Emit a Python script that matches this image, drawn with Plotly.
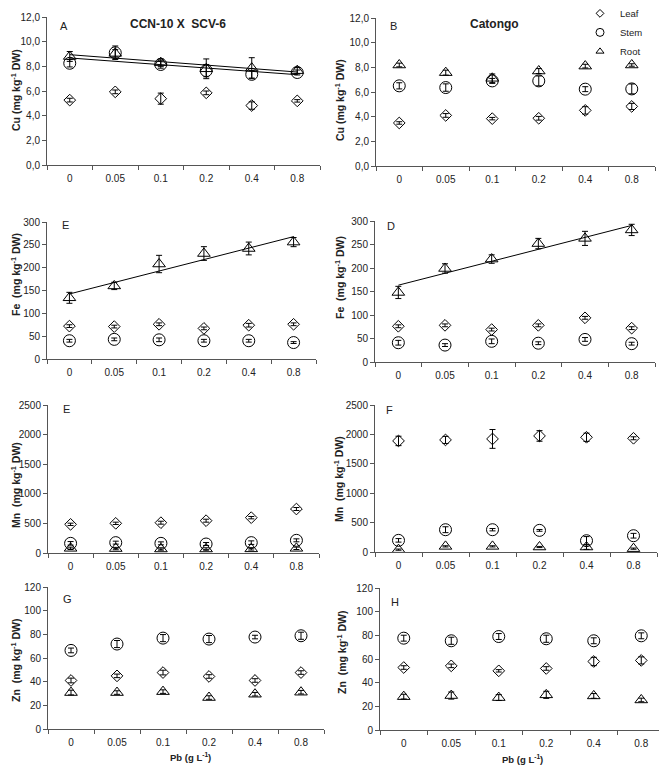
import numpy as np
import plotly.graph_objects as go

# page body has an 8px margin; figure fills the rest of the 667x768 window
OFF = 8
W, H = 667 - OFF, 768 - OFF

# ---------------- data ----------------
pb_labels = ["0", "0.05", "0.1", "0.2", "0.4", "0.8"]

# Cu - CCN-10 X SCV-6 (A)
cu_ccn_leaf = [5.26, 5.93, 5.38, 5.85, 4.82, 5.2]
cu_ccn_leaf_err = [0.15, 0.15, 0.45, 0.15, 0.3, 0.1]
cu_ccn_stem = [8.25, 9.1, 8.15, 7.65, 7.35, 7.5]
cu_ccn_stem_err = [0.3, 0.55, 0.3, 0.5, 0.3, 0.2]
cu_ccn_root = [8.8, 9.05, 8.3, 7.8, 7.85, 7.65]
cu_ccn_root_err = [0.4, 0.3, 0.3, 0.8, 0.85, 0.25]

# Cu - Catongo (B)
cu_cat_leaf = [3.49, 4.1, 3.84, 3.87, 4.51, 4.83]
cu_cat_leaf_err = [0.1, 0.15, 0.1, 0.15, 0.3, 0.25]
cu_cat_stem = [6.5, 6.36, 6.9, 6.9, 6.23, 6.25]
cu_cat_stem_err = [0.25, 0.3, 0.2, 0.4, 0.2, 0.4]
cu_cat_root = [8.19, 7.57, 7.11, 7.7, 8.1, 8.19]
cu_cat_root_err = [0.15, 0.2, 0.35, 0.2, 0.15, 0.1]

# Fe - CCN-10 X SCV-6
fe_ccn_leaf = [72, 71, 76, 67, 74, 76]
fe_ccn_leaf_err = [3, 3, 3, 3, 4, 3]
fe_ccn_stem = [40, 43, 42, 40, 40, 36]
fe_ccn_stem_err = [3, 3, 4, 3, 3, 2]
fe_ccn_root = [134, 160, 208, 231, 242, 256]
fe_ccn_root_err = [12, 8, 19, 15, 14, 10]

# Fe - Catongo
fe_cat_leaf = [76, 78, 69, 78, 94, 72]
fe_cat_leaf_err = [3, 3, 3, 3, 3, 3]
fe_cat_stem = [41, 36, 44, 40, 48, 39]
fe_cat_stem_err = [5, 3, 5, 3, 4, 3]
fe_cat_root = [148, 199, 219, 252, 263, 281]
fe_cat_root_err = [13, 10, 9, 11, 15, 12]

# Mn - CCN-10 X SCV-6
mn_ccn_leaf = [484, 501, 512, 546, 597, 743]
mn_ccn_leaf_err = [20, 20, 25, 25, 20, 25]
mn_ccn_stem = [163, 175, 163, 152, 175, 214]
mn_ccn_stem_err = [30, 25, 25, 25, 30, 25]
mn_ccn_root = [79, 75, 68, 68, 70, 79]
mn_ccn_root_err = [20, 20, 20, 20, 20, 20]

# Mn - Catongo
mn_cat_leaf = [1889, 1906, 1923, 1974, 1951, 1934]
mn_cat_leaf_err = [80, 60, 160, 90, 70, 25]
mn_cat_stem = [198, 379, 379, 368, 192, 277]
mn_cat_stem_err = [30, 50, 20, 15, 70, 40]
mn_cat_root = [40, 96, 96, 85, 85, 57]
mn_cat_root_err = [10, 10, 10, 10, 40, 10]

# Zn - CCN-10 X SCV-6
zn_ccn_leaf = [41, 44.9, 47.7, 44.4, 41, 47.7]
zn_ccn_leaf_err = [2, 1.5, 2, 1.5, 1.5, 1.5]
zn_ccn_stem = [66.4, 71.8, 76.8, 76, 77.7, 78.8]
zn_ccn_stem_err = [2, 3, 3, 3, 1.5, 3]
zn_ccn_root = [30.8, 30.8, 31.6, 26.6, 29.4, 31.1]
zn_ccn_root_err = [2, 1.5, 1.5, 1.5, 1.5, 1.5]

# Zn - Catongo
zn_cat_leaf = [52.8, 54.2, 50, 52, 57.9, 58.8]
zn_cat_leaf_err = [1.5, 1.5, 1, 1.5, 3.5, 3]
zn_cat_stem = [77.6, 75.4, 79, 77.1, 75.4, 79.6]
zn_cat_stem_err = [2.5, 3, 2.5, 3, 2.5, 2.5]
zn_cat_root = [28.2, 29.1, 27.4, 29.7, 28.8, 25.4]
zn_cat_root_err = [2, 3, 2.5, 3, 2, 1.5]

cu_ticks = [0, 2, 4, 6, 8, 10, 12]
cu_ticktext = ["0,0", "2,0", "4,0", "6,0", "8,0", "10,0", "12,0"]
fe_ticks = [0, 50, 100, 150, 200, 250, 300]
mn_ticks = [0, 500, 1000, 1500, 2000, 2500]
zn_ticks = [0, 20, 40, 60, 80, 100, 120]

# ---------------- layout helpers ----------------
FONT = "Liberation Sans, Arial, sans-serif"
AXC = "#555555"
TXT = "#222222"

def px_x(x):
    return (x - OFF) / W

def px_y(y):
    return 1 - (y - OFF) / H

fig = go.Figure()

# panel: (axis index, x0, x1, ytop, ybottom in window px)
panels = [
    (1, 47, 320, 17, 165),
    (2, 376, 655, 18, 166),
    (3, 47, 316, 222, 359),
    (4, 375, 655, 221, 362),
    (5, 48, 319, 405, 553),
    (6, 375, 657, 405, 552),
    (7, 48, 324, 587, 729),
    (8, 380, 665, 588, 730),
]

series_style = {
    "Leaf": dict(symbol="diamond-open", size=9),
    "Stem": dict(symbol="circle-open", size=12),
    "Root": dict(symbol="triangle-up-open", size=11),
}
legend_size = {"Leaf": 6, "Stem": 8, "Root": 7}

panel_data = {
    1: ([cu_ccn_leaf, cu_ccn_stem, cu_ccn_root], [cu_ccn_leaf_err, cu_ccn_stem_err, cu_ccn_root_err],
        [0, 12], cu_ticks, cu_ticktext, ["Stem", "Root"]),
    2: ([cu_cat_leaf, cu_cat_stem, cu_cat_root], [cu_cat_leaf_err, cu_cat_stem_err, cu_cat_root_err],
        [0, 12], cu_ticks, cu_ticktext, []),
    3: ([fe_ccn_leaf, fe_ccn_stem, fe_ccn_root], [fe_ccn_leaf_err, fe_ccn_stem_err, fe_ccn_root_err],
        [0, 300], fe_ticks, [str(v) for v in fe_ticks], ["Root"]),
    4: ([fe_cat_leaf, fe_cat_stem, fe_cat_root], [fe_cat_leaf_err, fe_cat_stem_err, fe_cat_root_err],
        [0, 300], fe_ticks, [str(v) for v in fe_ticks], ["Root"]),
    5: ([mn_ccn_leaf, mn_ccn_stem, mn_ccn_root], [mn_ccn_leaf_err, mn_ccn_stem_err, mn_ccn_root_err],
        [0, 2500], mn_ticks, [str(v) for v in mn_ticks], []),
    6: ([mn_cat_leaf, mn_cat_stem, mn_cat_root], [mn_cat_leaf_err, mn_cat_stem_err, mn_cat_root_err],
        [0, 2500], mn_ticks, [str(v) for v in mn_ticks], []),
    7: ([zn_ccn_leaf, zn_ccn_stem, zn_ccn_root], [zn_ccn_leaf_err, zn_ccn_stem_err, zn_ccn_root_err],
        [0, 120], zn_ticks, [str(v) for v in zn_ticks], []),
    8: ([zn_cat_leaf, zn_cat_stem, zn_cat_root], [zn_cat_leaf_err, zn_cat_stem_err, zn_cat_root_err],
        [0, 120], zn_ticks, [str(v) for v in zn_ticks], []),
}

names = ["Leaf", "Stem", "Root"]
xidx = list(range(len(pb_labels)))

layout_axes = {}
for (i, x0, x1, yt, yb) in panels:
    vals, errs, yrange, ytv, ytt, trends = panel_data[i]
    xa = "x" if i == 1 else f"x{i}"
    ya = "y" if i == 1 else f"y{i}"
    # trend lines (linear fit over the category positions)
    for nm in trends:
        k = names.index(nm)
        slope, icpt = np.polyfit(xidx, vals[k], 1)
        xs = [xidx[0], xidx[-1]]
        fig.add_trace(go.Scatter(
            x=xs, y=[icpt + slope * v for v in xs], mode="lines",
            line=dict(color="black", width=1), showlegend=False,
            hoverinfo="skip", xaxis=xa, yaxis=ya))
    for k, nm in enumerate(names):
        st = series_style[nm]
        fig.add_trace(go.Scatter(
            x=xidx, y=vals[k], mode="markers", name=nm,
            marker=dict(symbol=st["symbol"], size=st["size"], color="black",
                        line=dict(color="black", width=1)),
            error_y=dict(type="data", array=errs[k], visible=True,
                         color="black", thickness=1, width=3),
            showlegend=False, legendgroup=nm,
            xaxis=xa, yaxis=ya, cliponaxis=False))
    xkey = "xaxis" if i == 1 else f"xaxis{i}"
    ykey = "yaxis" if i == 1 else f"yaxis{i}"
    layout_axes[xkey] = dict(
        domain=[px_x(x0), px_x(x1)], anchor=ya, range=[-0.5, 5.5],
        tickmode="array", tickvals=xidx, ticktext=pb_labels, ticks="",
        showline=True, linecolor=AXC, linewidth=1, showgrid=False, zeroline=False,
        tickfont=dict(family=FONT, size=10, color=TXT), ticklabelstandoff=4,
        minor=dict(tickmode="linear", tick0=-0.5, dtick=1, ticks="outside",
                   ticklen=4, tickcolor=AXC, showgrid=False),
        fixedrange=True, automargin=False)
    layout_axes[ykey] = dict(
        domain=[px_y(yb), px_y(yt)], anchor=xa, range=yrange,
        tickmode="array", tickvals=ytv, ticktext=ytt, ticks="outside",
        ticklen=4, tickcolor=AXC, showline=True, linecolor=AXC, linewidth=1,
        showgrid=False, zeroline=False,
        tickfont=dict(family=FONT, size=10, color=TXT), fixedrange=True,
        automargin=False)

# legend entries (small symbols, as in the reference legend)
for nm in names:
    fig.add_trace(go.Scatter(
        x=[None], y=[None], mode="markers", name=nm, legendgroup=nm,
        marker=dict(symbol=series_style[nm]["symbol"], size=legend_size[nm],
                    color="black", line=dict(color="black", width=1)),
        showlegend=True, xaxis="x", yaxis="y"))

fig.update_layout(**layout_axes)

ann = []
def add_text(txt, x, y, size=9, bold=False, angle=0, xanchor="center"):
    t = f"<b>{txt}</b>" if bold else txt
    ann.append(dict(text=t, x=px_x(x), y=px_y(y), xref="paper", yref="paper",
                    showarrow=False, textangle=angle, xanchor=xanchor, yanchor="middle",
                    font=dict(family=FONT, size=size, color=TXT)))

# panel letters
for letter, x, y in [("A", 58, 26), ("B", 388, 26), ("E", 60, 225), ("D", 385, 226),
                     ("E", 61, 409), ("F", 384, 410), ("G", 61, 599), ("H", 389, 602)]:
    add_text(letter, x, y, size=11, xanchor="left")

add_text("CCN-10 X  SCV-6", 178, 24, size=12, bold=True)
add_text("Catongo", 495, 24, size=12, bold=True)

cu_title = "Cu (mg kg<sup>-1</sup> DW)"
fe_title = "Fe  (mg kg<sup>-1</sup> DW)"
mn_title = "Mn  (mg kg<sup>-1</sup> DW)"
zn_title = "Zn  (mg kg<sup>-1</sup> DW)"
for txt, x, y in [(cu_title, 15, 90), (cu_title, 339, 100), (fe_title, 15, 275), (fe_title, 339, 278),
                  (mn_title, 15, 485), (mn_title, 338, 479), (zn_title, 15, 660), (zn_title, 341, 652)]:
    add_text(txt, x, y, size=10.5, bold=True, angle=-90)

add_text("Pb (g L<sup>-1</sup>)", 190, 757, size=9.5, bold=True)
add_text("Pb (g L<sup>-1</sup>)", 522, 759, size=9.5, bold=True)

fig.update_layout(
    width=W, height=H, margin=dict(l=0, r=0, t=0, b=0, autoexpand=False),
    paper_bgcolor="white", plot_bgcolor="white",
    annotations=ann,
    showlegend=True,
    legend=dict(x=px_x(580), y=1.012, xanchor="left", yanchor="top",
                font=dict(family=FONT, size=9.5, color=TXT),
                bgcolor="rgba(0,0,0,0)", itemwidth=30, tracegroupgap=0,
                borderwidth=0),
)

fig.write_html("out.html")
